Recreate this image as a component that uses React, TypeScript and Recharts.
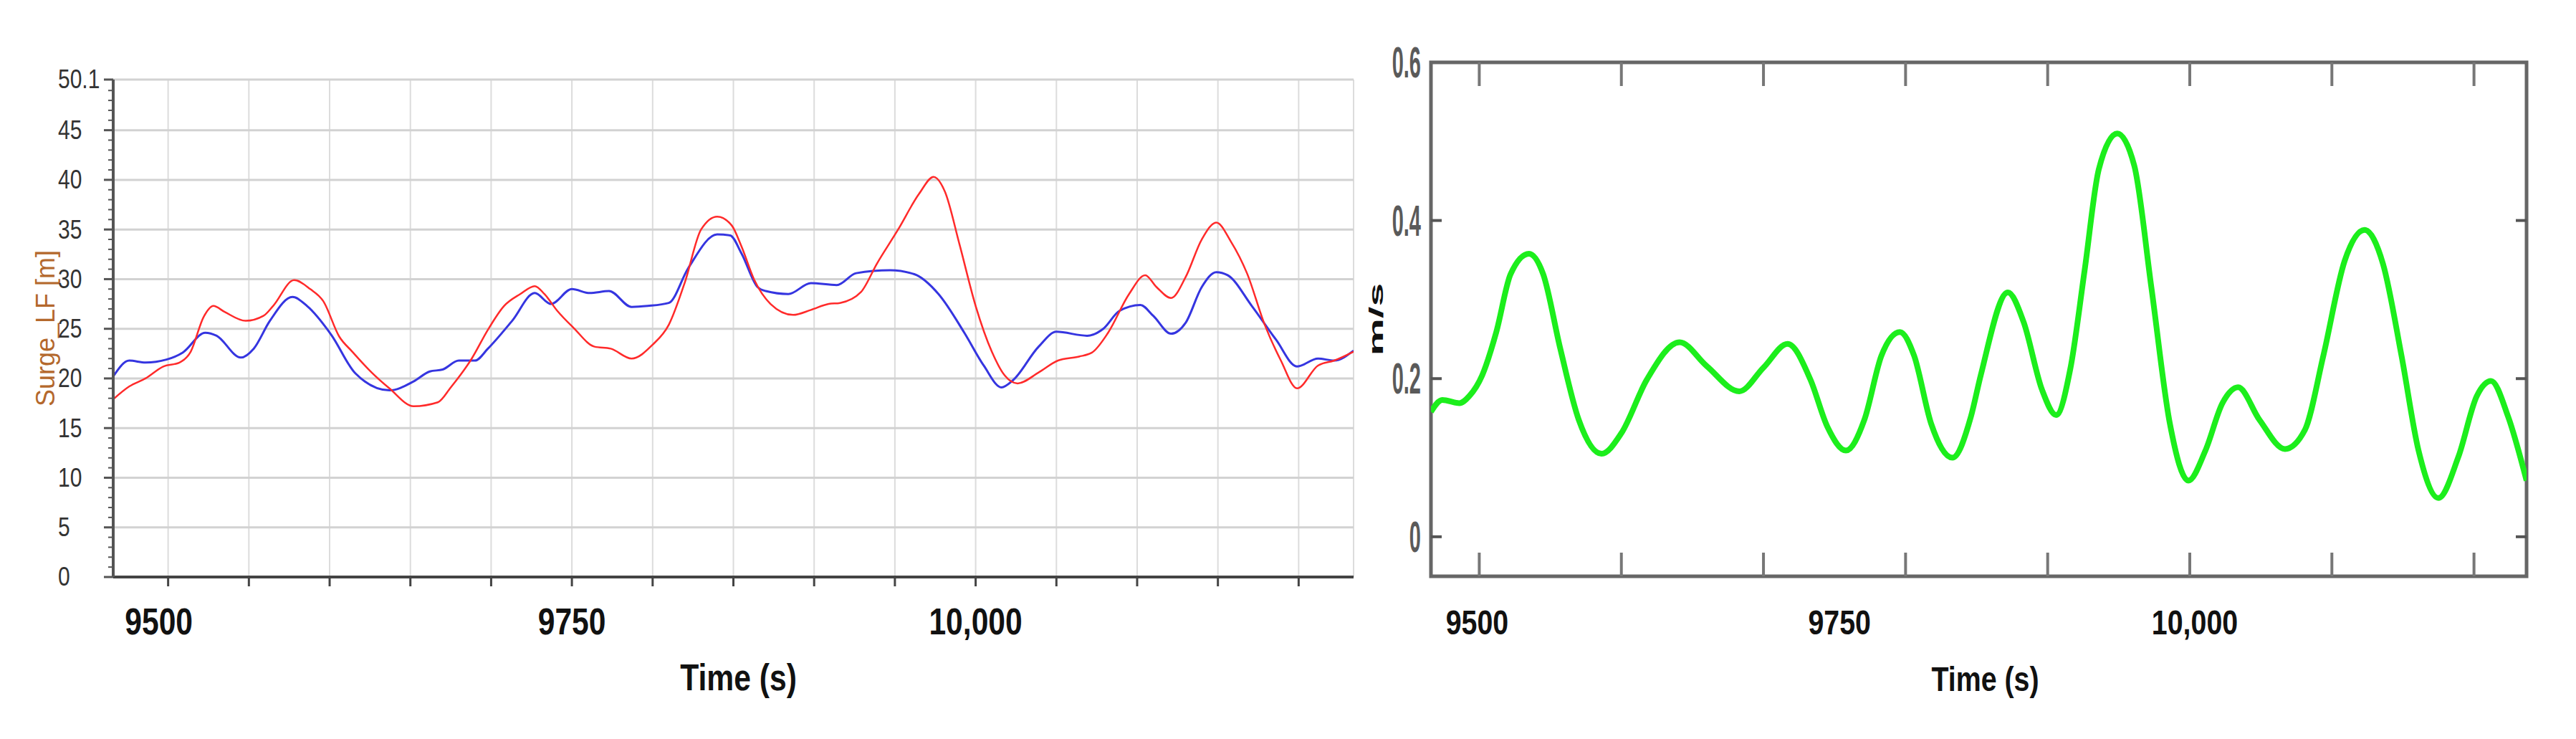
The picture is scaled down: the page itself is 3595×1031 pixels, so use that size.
import React from "react";
import { LineChart, Line, XAxis, YAxis, CartesianGrid, ReferenceLine, ReferenceArea } from "recharts";

// left panel: Surge_LF [m], two records (red / blue)
const redTime = [
  9466, 9476, 9486, 9497, 9507, 9514, 9522, 9528, 9535, 9548, 9559, 9565, 9578, 9588, 9596, 9606, 9614,
  9626, 9637, 9652, 9667, 9675, 9688, 9698, 9708, 9718, 9727, 9733, 9741, 9751, 9764, 9774, 9787, 9800,
  9810, 9820, 9830, 9840, 9849, 9855, 9863, 9873, 9887, 9898, 9909, 9916, 9929, 9939, 9952, 9965, 9974,
  9981, 9990, 10000, 10010, 10018, 10026, 10039, 10051, 10064, 10072, 10082, 10095, 10105, 10112, 10121,
  10130, 10140, 10149, 10158, 10168, 10179, 10189, 10199, 10212, 10222, 10234,
];
const redSurge = [
  17.9, 19.2, 20.0, 21.2, 21.6, 22.7, 26.2, 27.3, 26.7, 25.8, 26.3, 27.3, 29.9, 29.0, 27.8, 24.2, 22.7,
  20.6, 19.0, 17.2, 17.6, 19.1, 22.0, 24.9, 27.3, 28.5, 29.3, 28.5, 26.8, 25.1, 23.2, 23.0, 22.0, 23.4,
  25.4, 29.7, 35.0, 36.3, 35.4, 33.3, 29.9, 27.5, 26.4, 26.9, 27.5, 27.6, 28.7, 31.6, 35.0, 38.6, 40.3,
  38.8, 33.5, 27.3, 22.7, 20.3, 19.5, 20.6, 21.8, 22.2, 22.6, 24.6, 28.5, 30.4, 29.2, 28.1,
  30.2, 34.0, 35.7, 33.8, 30.6, 25.4, 21.8, 19.0, 21.3, 21.8, 22.7,
];
const blueTime = [
  9466, 9476, 9486, 9499, 9509, 9523, 9530, 9545, 9553, 9563, 9577, 9586, 9601, 9616, 9637, 9652, 9662,
  9670, 9680, 9690, 9698, 9713, 9727, 9737, 9750, 9761, 9773, 9787, 9797, 9810, 9822, 9840, 9848, 9855,
  9865, 9870, 9884, 9898, 9914, 9926, 9947, 9962, 9977, 9993, 10005, 10016, 10023, 10039, 10050, 10069,
  10079, 10089, 10102, 10110, 10121, 10130, 10140, 10149, 10156, 10171, 10186, 10199, 10212, 10222, 10234,
];
const blueSurge = [
  20.2, 21.8, 21.6, 21.9, 22.6, 24.6, 24.3, 22.1, 23.0, 25.8, 28.2, 27.3, 24.4, 20.5, 18.8, 19.7, 20.7,
  20.9, 21.8, 21.8, 23.0, 25.8, 28.6, 27.5, 29.0, 28.6, 28.8, 27.2, 27.3, 27.6, 31.1, 34.5, 34.4, 32.6,
  29.2, 28.8, 28.5, 29.6, 29.4, 30.6, 30.9, 30.5, 28.5, 24.6, 21.3, 19.1, 19.8, 23.2, 24.7, 24.3,
  25.0, 26.8, 27.4, 26.3, 24.5, 25.6, 29.2, 30.7, 30.4, 27.3, 23.9, 21.2, 22.0, 21.8, 22.8,
];

// right panel: velocity [m/s]
const velTime = [
  9466, 9474, 9486, 9493, 9502, 9512, 9522, 9535, 9545, 9557, 9570, 9586, 9600, 9618, 9641, 9660, 9683,
  9700, 9717, 9733, 9745, 9758, 9771, 9783, 9796, 9806, 9818, 9833, 9846, 9853, 9872, 9883, 9896, 9906,
  9916, 9926, 9936, 9949, 9961, 9973, 9986, 9999, 10011, 10023, 10034, 10049, 10067, 10081, 10094,
  10109, 10123, 10136, 10149, 10161, 10175, 10189, 10202, 10212, 10224, 10237,
];
const velValue = [
  0.158, 0.173, 0.169, 0.178, 0.204, 0.259, 0.332, 0.358, 0.332, 0.238, 0.148, 0.105, 0.131, 0.199, 0.246,
  0.216, 0.184, 0.214, 0.244, 0.199, 0.139, 0.109, 0.148, 0.229, 0.259, 0.229, 0.143, 0.1, 0.152, 0.205,
  0.309, 0.272, 0.186, 0.154, 0.213, 0.337, 0.465, 0.51, 0.469, 0.315, 0.143, 0.071, 0.109, 0.169, 0.189,
  0.148, 0.111, 0.135, 0.229, 0.349, 0.388, 0.345, 0.229, 0.109, 0.049, 0.101, 0.178, 0.197, 0.152, 0.071,
];

const surgeXTicks = [9500, 9550, 9600, 9650, 9700, 9750, 9800, 9850, 9900, 9950, 10000, 10050, 10100, 10150, 10200];
const velXTicks = [9500, 9600, 9700, 9750, 9800, 9900, 10000, 10100, 10200];
const timeLabels: Record<number, string> = { 9500: "9500", 9750: "9750", 10000: "10,000" };
const surgeYMajor = [0, 5, 10, 15, 20, 25, 30, 35, 40, 45, 50.1];
const surgeYMinor = Array.from({ length: 50 }, (_, i) => i).filter((v) => v % 5 !== 0);
const surgeYTicks = [...surgeYMajor, ...surgeYMinor].sort((a, b) => a - b);
const surgeGridY = [5, 10, 15, 20, 25, 30, 35, 40, 45, 50.1];
const velYTicks = [0, 0.2, 0.4, 0.6];

const SURGE_X = [9466, 10234];
const VEL_X = [9466, 10237];
const VEL_Y = [-0.05, 0.6];
const VEL_PLOT_W = 1529;
const VEL_PLOT_H = 717;

const SANS = "'Liberation Sans', Arial, sans-serif";

const redRows = redTime.map((t, i) => ({ t, v: redSurge[i] }));
const blueRows = blueTime.map((t, i) => ({ t, v: blueSurge[i] }));
const velRows = velTime.map((t, i) => ({ t, v: velValue[i] }));

// bold condensed text (no narrow font installed, so squeeze Liberation Sans Bold)
function NarrowText({ x, y, size, children }: any) {
  return (
    <text transform={`translate(${x}, ${y}) scale(0.82, 1)`} textAnchor="middle" dominantBaseline="central"
      fontFamily={SANS} fontWeight="bold" fontSize={size} fill="#111">{children}</text>
  );
}

function SurgeXTick(p: any) {
  const v = p.payload.value;
  const label = timeLabels[v];
  if (!label) return <g />;
  return <NarrowText x={p.x + (v === 9500 ? -13 : 0)} y={p.y + 47} size={52}>{label}</NarrowText>;
}

function SurgeYTick(p: any) {
  const v = p.payload.value;
  const major = surgeYMajor.includes(v);
  return (
    <g>
      <line x1={p.x - (major ? 13 : 7)} x2={p.x} y1={p.y} y2={p.y} stroke="#555" strokeWidth={major ? 3 : 2} />
      {major && (
        <text transform={`translate(${p.x - 77}, ${p.y}) scale(1, 1.2)`} textAnchor="start" dominantBaseline="central"
          fontFamily={SANS} fontSize={30} fill="#333">{v}</text>
      )}
    </g>
  );
}

function VelXTick(p: any) {
  const v = p.payload.value;
  const label = timeLabels[v];
  return (
    <g>
      {v % 100 === 0 && (
        <>
          <line x1={p.x} x2={p.x} y1={p.y} y2={p.y - 33} stroke="#777" strokeWidth={4} />
          <line x1={p.x} x2={p.x} y1={p.y - VEL_PLOT_H} y2={p.y - VEL_PLOT_H + 33} stroke="#777" strokeWidth={4} />
        </>
      )}
      {label && <NarrowText x={p.x + (v === 9500 ? -3 : 7)} y={p.y + 64} size={48}>{label}</NarrowText>}
    </g>
  );
}

function VelYTick(p: any) {
  const v = p.payload.value;
  return (
    <g>
      {v !== 0.6 && (
        <>
          <line x1={p.x} x2={p.x + 15} y1={p.y} y2={p.y} stroke="#555" strokeWidth={4} />
          <line x1={p.x + VEL_PLOT_W - 15} x2={p.x + VEL_PLOT_W} y1={p.y} y2={p.y} stroke="#555" strokeWidth={4} />
        </>
      )}
      <g transform={`translate(${p.x - 14}, ${p.y}) scale(1, 2.1)`}>
        <text textAnchor="end" dominantBaseline="central" fontFamily={SANS} fontWeight="bold"
          fontSize={29} fill="#5a5a5a">{v}</text>
      </g>
    </g>
  );
}

export default function App() {
  return (
    <div style={{ position: "absolute", left: 0, top: 0, width: 3595, height: 1031, background: "#fff" }}>
      <div style={{ position: "absolute", left: 0, top: 0 }}>
        <LineChart width={1930} height={1031} margin={{ top: 111, right: 41, bottom: 0, left: 0 }}>
          <CartesianGrid horizontal={false} stroke="#dcdcdc" strokeWidth={2} />
          {surgeGridY.map((v) => (
            <ReferenceLine key={v} y={v} stroke="#d2d2d2" strokeWidth={3} />
          ))}
          <XAxis type="number" dataKey="t" domain={SURGE_X} ticks={surgeXTicks} allowDataOverflow interval={0}
            height={226} tickSize={13} tickMargin={2} tickLine={{ stroke: "#444", strokeWidth: 3 }}
            axisLine={{ stroke: "#444", strokeWidth: 4 }} tick={SurgeXTick}
            label={{
              content: (lp: any) => (
                <NarrowText x={lp.viewBox.x + lp.viewBox.width / 2 + 7} y={lp.viewBox.y + 140} size={52}>Time (s)</NarrowText>
              ),
            }} />
          <YAxis type="number" domain={[0, 50.1]} ticks={surgeYTicks} allowDataOverflow interval={0} width={158}
            tickSize={0} tickMargin={0} tickLine={false} axisLine={{ stroke: "#555", strokeWidth: 4 }} tick={SurgeYTick}
            label={{
              content: (lp: any) => (
                <text transform={`translate(63, ${lp.viewBox.y + lp.viewBox.height / 2}) rotate(-90)`}
                  textAnchor="middle" dominantBaseline="central" fontFamily={SANS} fontSize={36} fill="#b4682c">Surge_LF [m]</text>
              ),
            }} />
          <Line data={blueRows} dataKey="v" type="monotone" stroke="#3535e0" strokeWidth={3} dot={false} isAnimationActive={false} />
          <Line data={redRows} dataKey="v" type="monotone" stroke="#ff2a2a" strokeWidth={2.5} dot={false} isAnimationActive={false} />
        </LineChart>
      </div>
      <div style={{ position: "absolute", left: 1860, top: 0 }}>
        <LineChart width={1735} height={1031} margin={{ top: 87, right: 69, bottom: 0, left: 0 }}>
          <ReferenceArea x1={VEL_X[0]} x2={VEL_X[1]} y1={VEL_Y[0]} y2={VEL_Y[1]} fill="none" fillOpacity={0}
            stroke="#666" strokeWidth={5} ifOverflow="extendDomain" />
          <XAxis type="number" dataKey="t" domain={VEL_X} ticks={velXTicks} allowDataOverflow interval={0}
            height={227} tickSize={0} tickMargin={0} tickLine={false} axisLine={false} tick={VelXTick}
            label={{
              content: (lp: any) => (
                <NarrowText x={lp.viewBox.x + lp.viewBox.width / 2 + 9} y={lp.viewBox.y + 143} size={48}>Time (s)</NarrowText>
              ),
            }} />
          <YAxis type="number" domain={VEL_Y} ticks={velYTicks} allowDataOverflow interval={0} width={137}
            tickSize={0} tickMargin={0} tickLine={false} axisLine={false} tick={VelYTick}
            label={{
              content: (lp: any) => (
                <g transform={`translate(60, ${lp.viewBox.y + lp.viewBox.height / 2}) scale(1, 2.1)`}>
                  <text transform="rotate(-90)" textAnchor="middle" dominantBaseline="central"
                    fontFamily={SANS} fontWeight="bold" fontSize={28} fill="#111">m/s</text>
                </g>
              ),
            }} />
          <Line data={velRows} dataKey="v" type="monotone" stroke="#1cee1c" strokeWidth={8} dot={false} isAnimationActive={false} />
        </LineChart>
      </div>
    </div>
  );
}
